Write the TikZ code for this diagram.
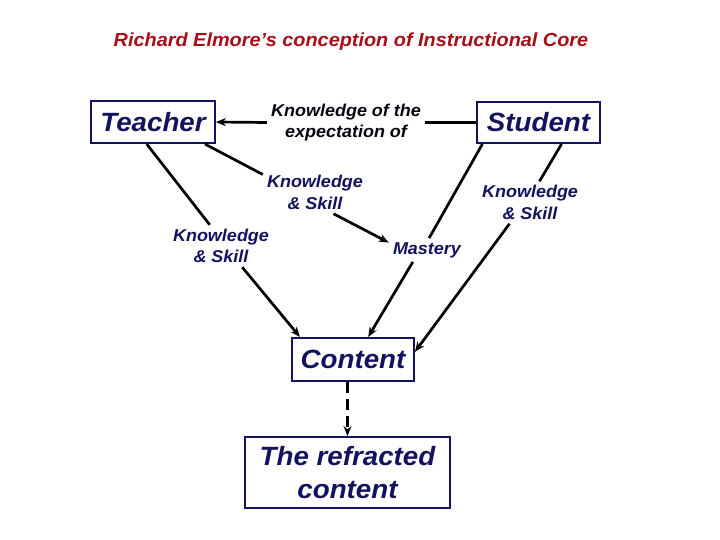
\documentclass[tikz,border=0pt]{standalone}
\usepackage{fontspec}
\setmainfont[FakeStretch=1.05]{Liberation Sans}
\usetikzlibrary{positioning, calc, arrows.meta}

\begin{document}
\begin{tikzpicture}[x=1bp, y=-1bp,
  caixa/.style={draw=azul, line width=2.2bp, text=azul, font=\fontsize{26.5}{33}\selectfont\bfseries\itshape, align=center, inner sep=0pt},
  rotulo/.style={text=azul, font=\fontsize{17.2}{21.5}\selectfont\bfseries\itshape, align=center, inner sep=4bp},
  seta/.style={-{Stealth[length=10bp, width=8bp]}, line width=2.7bp},
  linha/.style={line width=2.7bp}]
% --- CORES ---
\definecolor{azul}{HTML}{12125E}
\definecolor{titulo}{HTML}{A80E16}
\useasboundingbox (0,0) rectangle (720,540);

% LAYER 1: Titulo
\node[text=titulo, font=\fontsize{19}{22}\selectfont\bfseries\itshape] (title) at (351,42) {Richard Elmore’s conception of Instructional Core};

% LAYER 2: Caixas
\node[caixa, minimum width=124, minimum height=42] (teacher) at (153,122) {Teacher};
\node[caixa, minimum width=123, minimum height=41] (student) at (538.5,122.5) {Student};
\node[caixa, minimum width=122, minimum height=43] (content) at (353,359.5) {Content};
\node[caixa, minimum width=205, minimum height=71] (refracted) at (347.5,472.5) {The refracted\\content};

% LAYER 3: Rotulos
\node[rotulo, text=black!85!azul] (expect) at (346,122.5) {Knowledge of the\\expectation of};
\node[rotulo] (ksmid) at (315,192.5) {Knowledge\\\& Skill};
\node[rotulo] (ksleft) at (221,246) {Knowledge\\\& Skill};
\node[rotulo] (ksright) at (530,202.5) {Knowledge\\\& Skill};
\node[rotulo] (mastery) at (427,250) {Mastery};

% LAYER 4: Ligacoes
\draw[seta, yshift=4bp] (expect.west) -- (teacher.east);
\draw[linha, yshift=7bp] (expect.east) -- (student.west);
\draw[linha] (teacher.-106) -- (ksleft.118);
\draw[seta] (ksleft.-45) -- (content.157);
\draw[linha] (teacher.-23) -- (ksmid.161);
\draw[seta] (ksmid.-49) -- (mastery.169);
\draw[linha] (student.-159) -- (mastery.80);
\draw[seta] (mastery.-140) -- (content.56);
\draw[linha] (student.-43) -- (ksright.66);
\draw[seta] (ksright.-134) -- (content.7);
\draw[seta, dash pattern=on 11bp off 6bp, line width=3.2bp] (content.south -| refracted.north) -- (refracted.north);
\end{tikzpicture}
\end{document}
